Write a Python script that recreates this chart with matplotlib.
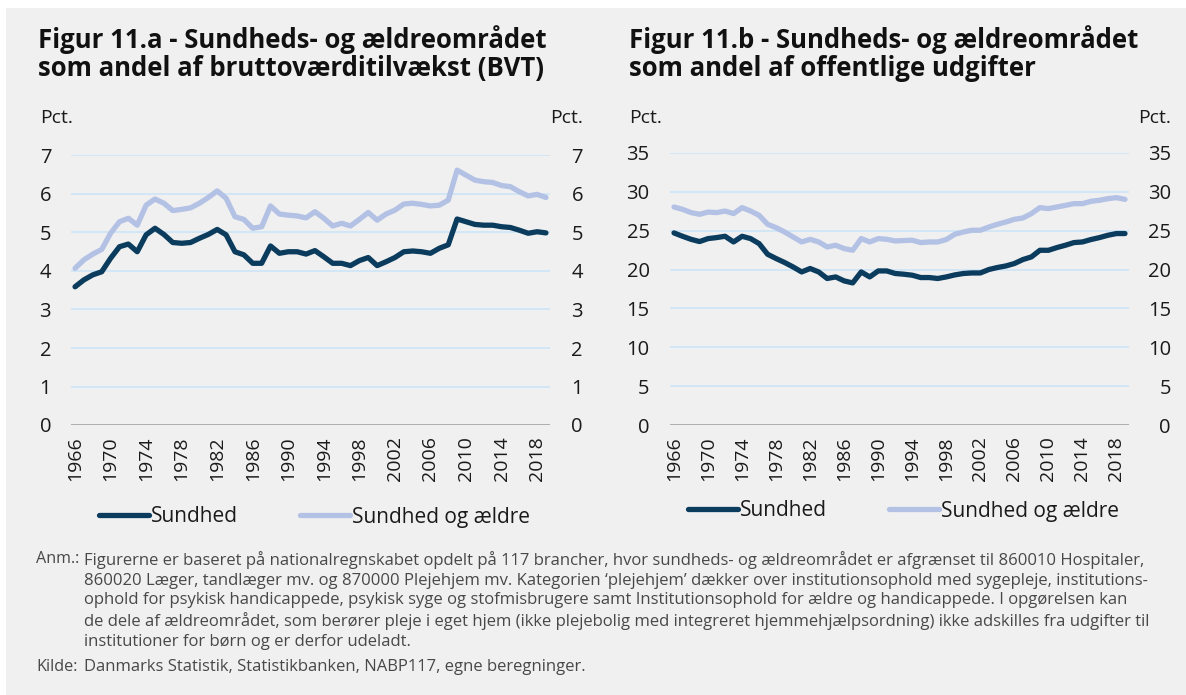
import numpy as np
import matplotlib
matplotlib.use('Agg')
import matplotlib.pyplot as plt
from matplotlib.patches import Rectangle
from matplotlib.transforms import ScaledTranslation

plt.rcParams['font.family'] = ['Open Sans', 'DejaVu Sans']

years = list(range(1966, 2020))
year_ticks = list(range(1966, 2019, 4))

# Figur 11.a - andel af BVT (pct.)
bvt_sundhed = [3.59, 3.77, 3.90, 3.98, 4.33, 4.63, 4.70, 4.50, 4.94, 5.11,
               4.95, 4.74, 4.72, 4.74, 4.85, 4.95, 5.08, 4.94, 4.50, 4.42,
               4.20, 4.20, 4.65, 4.46, 4.50, 4.50, 4.44, 4.53, 4.37, 4.20,
               4.20, 4.14, 4.27, 4.35, 4.14, 4.24, 4.35, 4.50, 4.52, 4.50,
               4.46, 4.59, 4.68, 5.35, 5.28, 5.21, 5.19, 5.19, 5.15, 5.13,
               5.06, 4.98, 5.02, 4.99]
bvt_sundhed_aeldre = [4.07, 4.29, 4.44, 4.56, 4.98, 5.28, 5.37, 5.19, 5.71, 5.87,
                      5.76, 5.57, 5.60, 5.64, 5.76, 5.91, 6.08, 5.89, 5.41, 5.34,
                      5.11, 5.15, 5.69, 5.48, 5.45, 5.43, 5.38, 5.54, 5.37, 5.17,
                      5.24, 5.17, 5.34, 5.52, 5.32, 5.48, 5.58, 5.74, 5.76, 5.73,
                      5.69, 5.71, 5.84, 6.62, 6.49, 6.36, 6.32, 6.30, 6.22, 6.19,
                      6.06, 5.95, 5.99, 5.91]

# Figur 11.b - andel af offentlige udgifter (pct.)
udg_sundhed = [24.70, 24.27, 23.88, 23.59, 23.97, 24.10, 24.27, 23.54, 24.27, 23.97,
               23.33, 21.96, 21.41, 20.90, 20.33, 19.69, 20.13, 19.69, 18.85, 19.05,
               18.54, 18.28, 19.69, 19.05, 19.82, 19.82, 19.49, 19.40, 19.27, 18.97,
               18.97, 18.85, 19.05, 19.31, 19.49, 19.56, 19.56, 20.00, 20.26, 20.46,
               20.77, 21.28, 21.62, 22.47, 22.47, 22.82, 23.12, 23.46, 23.54, 23.85,
               24.10, 24.40, 24.62, 24.62]
udg_sundhed_aeldre = [28.03, 27.73, 27.31, 27.09, 27.38, 27.31, 27.51, 27.18, 27.95, 27.51,
                      26.96, 25.81, 25.38, 24.82, 24.18, 23.54, 23.88, 23.54, 22.90, 23.12,
                      22.69, 22.47, 23.97, 23.54, 23.97, 23.88, 23.67, 23.72, 23.76, 23.46,
                      23.54, 23.54, 23.85, 24.53, 24.82, 25.04, 25.04, 25.46, 25.81, 26.10,
                      26.45, 26.62, 27.18, 27.95, 27.82, 28.03, 28.24, 28.46, 28.46, 28.76,
                      28.89, 29.10, 29.23, 29.01]

series_labels = ['Sundhed', 'Sundhed og ældre']
title_a = 'Figur 11.a - Sundheds- og ældreområdet\nsom andel af bruttoværditilvækst (BVT)'
title_b = 'Figur 11.b - Sundheds- og ældreområdet\nsom andel af offentlige udgifter'

anm_lines = [
    'Figurerne er baseret på nationalregnskabet opdelt på 117 brancher, hvor sundheds- og ældreområdet er afgrænset til 860010 Hospitaler,',
    '860020 Læger, tandlæger mv. og 870000 Plejehjem mv. Kategorien \u2018plejehjem\u2019 dækker over institutionsophold med sygepleje, institutions-',
    'ophold for psykisk handicappede, psykisk syge og stofmisbrugere samt Institutionsophold for ældre og handicappede. I opgørelsen kan',
    'de dele af ældreområdet, som berører pleje i eget hjem (ikke plejebolig med integreret hjemmehjælpsordning) ikke adskilles fra udgifter til',
    'institutioner for børn og er derfor udeladt.',
]
kilde = 'Danmarks Statistik, Statistikbanken, NABP117, egne beregninger.'

DARK = '#0b3c5d'
LIGHT = '#b3c1e5'
GRID = '#cfe6f7'
BG = '#f0f0f0'
TEXT = '#1a1a1a'

W, H = 1186, 695


def px_axes(fig, x0, x1, y_bottom, y_top):
    """ axes from pixel box (y measured from top) """
    return fig.add_axes([x0 / W, 1 - y_bottom / H, (x1 - x0) / W, (y_bottom - y_top) / H])


def draw_panel(fig, ax, s1, s2, ymax, ystep, left_pad, right_edge_px):
    ax.set_facecolor('none')
    ax.plot(years, s2, color=LIGHT, lw=3.8, solid_capstyle='round', solid_joinstyle='round',
            label=series_labels[1], zorder=3)
    ax.plot(years, s1, color=DARK, lw=3.8, solid_capstyle='round', solid_joinstyle='round',
            label=series_labels[0], zorder=4)
    ax.set_xlim(1965.5, 2019.5)
    ax.set_ylim(0, ymax)
    yt = np.arange(0, ymax + 0.1, ystep)
    ax.set_yticks(yt)
    ax.set_yticklabels([f'{v:g}' for v in yt])
    for v in yt[1:]:
        ax.axhline(v, color=GRID, lw=1.3, zorder=1)
    ax.axhline(0, color='#a9a9a9', lw=1.3, zorder=2)
    for sp in ax.spines.values():
        sp.set_visible(False)
    ax.set_xticks(year_ticks)
    ax.set_xticklabels([str(y) for y in year_ticks], rotation=90, fontsize=14, color=TEXT)
    ax.tick_params(axis='x', length=0, pad=8)
    ax.tick_params(axis='y', length=0, labelsize=14.5, labelcolor=TEXT,
                   labelleft=True, labelright=True, pad=left_pad)

    # right-hand labels right aligned at right_edge_px
    ax_right_px = ax.get_position().x1 * W
    dx = (right_edge_px - ax_right_px) / 100 - left_pad / 72
    shift = ScaledTranslation(dx, 0, fig.dpi_scale_trans)
    for t in ax.yaxis.get_major_ticks():
        t.label2.set_horizontalalignment('right')
        t.label2.set_transform(t.label2.get_transform() + shift)
    return ax


def main():
    fig = plt.figure(figsize=(W / 100, H / 100), dpi=100)
    fig.patches.append(Rectangle((6 / W, 0), 1 - 6 / W, 1 - 8 / H, transform=fig.transFigure,
                                 facecolor=BG, edgecolor='none', zorder=-10))

    ax_a = px_axes(fig, 70.6, 550.4, 425.0, 155.5)
    draw_panel(fig, ax_a, bvt_sundhed, bvt_sundhed_aeldre, 7, 1, 14, 583)
    ax_b = px_axes(fig, 669.75, 1129.25, 425.3, 152.7)
    draw_panel(fig, ax_b, udg_sundhed, udg_sundhed_aeldre, 35, 5, 14.5, 1171)

    fig.text(38 / W, 1 - 25 / H, title_a, fontsize=18.5, fontweight='bold', color='#111111',
             va='top', ha='left', linespacing=1.05)
    fig.text(629 / W, 1 - 25 / H, title_b, fontsize=18.5, fontweight='bold', color='#111111',
             va='top', ha='left', linespacing=1.05)

    for x, ha in ((40, 'left'), (583, 'right'), (629, 'left'), (1171, 'right')):
        fig.text(x / W, 1 - 118 / H, 'Pct.', fontsize=14, color=TEXT, ha=ha, va='center')

    for ax, y in ((ax_a, 517), (ax_b, 511)):
        h, l = ax.get_legend_handles_labels()
        pos = ax.get_position()
        leg = fig.legend(h[::-1], l[::-1], loc='center',
                         bbox_to_anchor=((pos.x0 + pos.x1) / 2 + 4 / W, 1 - y / H),
                         ncol=2, frameon=False, fontsize=15, handlelength=2.4, handletextpad=0.1,
                         columnspacing=3.0, borderaxespad=0)
        for txt in leg.get_texts():
            txt.set_color(TEXT)

    foot_color = '#484848'
    fs = 12.0
    fig.text(36 / W, 1 - 551 / H, 'Anm.:', fontsize=11.6, color=foot_color, va='top', ha='left')
    fig.text(84 / W, 1 - 551 / H, '\n'.join(anm_lines), fontsize=fs, color=foot_color,
             va='top', ha='left', linespacing=1.3)
    fig.text(36 / W, 1 - 659 / H, 'Kilde:', fontsize=11.6, color=foot_color, va='top', ha='left')
    fig.text(84 / W, 1 - 659 / H, kilde, fontsize=fs, color=foot_color, va='top', ha='left')

    fig.savefig('out.png', dpi=100, facecolor='white')


if __name__ == "__main__":
    main()
